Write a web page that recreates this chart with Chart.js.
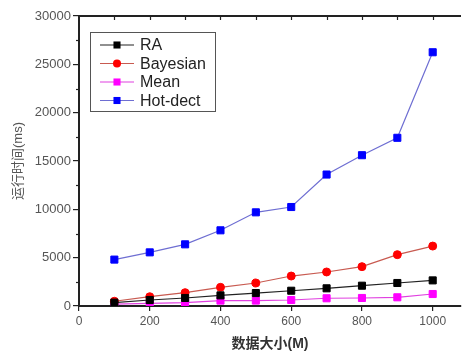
<!DOCTYPE html>
<html>
<head>
<meta charset="utf-8">
<script src="https://cdn.jsdelivr.net/npm/chart.js@4"></script>
<style>
html,body{margin:0;padding:0;background:#fff;}
canvas{display:block;}
</style>
</head>
<body>
<canvas id="chart" width="467" height="355"></canvas>
<script>
// ================= DATA =================

const sizes=[100,200,300,400,500,600,700,800,900,1000];

const raTimes=[350,620,830,1100,1340,1580,1830,2100,2380,2650];
const bayesTimes=[490,960,1380,1930,2380,3100,3520,4070,5310,6200];
const meanTimes=[200,280,350,560,560,620,800,830,900,1240];
const hotTimes=[4800,5550,6380,7830,9690,10240,13600,15600,17400,26250];

const seriesNames=["RA","Bayesian","Mean","Hot-dect"];

const xTitle="数据大小(M)";
const yTitle="运行时间(ms)";

const FONT='"Liberation Sans", "Noto Sans CJK SC", sans-serif';

function pts(vals){
return sizes.map((s,i)=>({x:s,y:vals[i]}));
}

// ================= DECOR PLUGIN =================

const decor={
id:"decor",
afterDraw(chart){
const ctx=chart.ctx;
const a=chart.chartArea;
const xs=chart.scales.x;
const ys=chart.scales.y;

ctx.save();
ctx.strokeStyle="#222";

// top frame line
ctx.lineWidth=2;
ctx.beginPath();
ctx.moveTo(a.left,a.top);
ctx.lineTo(a.right,a.top);
ctx.stroke();

// top inward ticks
ctx.lineWidth=1.2;
for(let v=100;v<=1000;v+=100){
const px=Math.round(xs.getPixelForValue(v))+0.5;
ctx.beginPath();
ctx.moveTo(px,a.top);
ctx.lineTo(px,a.top+4);
ctx.stroke();
}

// y minor ticks
for(let v=2500;v<30000;v+=5000){
const py=Math.round(ys.getPixelForValue(v))+0.5;
ctx.beginPath();
ctx.moveTo(a.left-3,py);
ctx.lineTo(a.left,py);
ctx.stroke();
}

// legend
const bx=90.5,by=32.5,bw=125,bh=79;
ctx.lineWidth=1;
ctx.strokeStyle="#555";
ctx.strokeRect(bx,by,bw,bh);

const rowsY=[45,63.5,82,100.5];
chart.data.datasets.forEach((ds,i)=>{
const y=rowsY[i];
ctx.strokeStyle=ds.borderColor;
ctx.lineWidth=1.2;
ctx.beginPath();
ctx.moveTo(100,y);
ctx.lineTo(134,y);
ctx.stroke();
ctx.fillStyle=ds.pointBackgroundColor;
ctx.beginPath();
if(ds.pointStyle==="circle"){
ctx.arc(117,y,ds.pointRadius,0,Math.PI*2);
}else{
const h=ds.pointRadius*Math.SQRT1_2;
ctx.rect(117-h,y-h,h*2,h*2);
}
ctx.fill();
ctx.fillStyle="#222";
ctx.font="16px "+FONT;
ctx.textBaseline="middle";
ctx.textAlign="left";
ctx.fillText(ds.label,140,y+1);
});

ctx.restore();
}
};

// ================= CHART =================

function mkSet(label,vals,line,mark,style){
return{
label:label,
data:pts(vals),
borderColor:line,
backgroundColor:mark,
pointBackgroundColor:mark,
pointBorderColor:mark,
pointStyle:style,
pointRadius:style==="circle"?4:5,
pointBorderWidth:1,
borderWidth:1.2,
tension:0,
fill:false
};
}

new Chart(document.getElementById("chart"),{

type:"line",

data:{
datasets:[
mkSet(seriesNames[0],raTimes,"#222222","#000000","rect"),
mkSet(seriesNames[1],bayesTimes,"#c85a50","#ff0000","circle"),
mkSet(seriesNames[2],meanTimes,"#e040e0","#ff00ff","rect"),
mkSet(seriesNames[3],hotTimes,"#6e6ed2","#0000ff","rect")
]
},

options:{
responsive:false,
animation:false,
layout:{padding:{top:16,right:0,left:0,bottom:0}},
plugins:{
legend:{display:false},
tooltip:{enabled:false}
},
scales:{
x:{
type:"linear",
position:"bottom",
min:0,
max:1080,
afterFit:s=>{s.height=49;},
ticks:{
stepSize:200,
includeBounds:false,
color:"#555",
padding:3,
font:{family:FONT,size:12},
callback:v=>String(v)
},
grid:{
drawOnChartArea:false,
tickLength:5,
color:"#222",
lineWidth:1.2
},
border:{color:"#222",width:2},
title:{
display:true,
text:xTitle,
color:"#333",
font:{family:FONT,size:14,weight:"bold"},
padding:{top:0,bottom:2}
}
},
y:{
min:0,
max:30000,
afterFit:s=>{s.width=79;},
ticks:{
stepSize:5000,
color:"#555",
padding:2,
font:{family:FONT,size:13},
callback:v=>String(v)
},
grid:{
drawOnChartArea:false,
tickLength:6,
color:"#222",
lineWidth:1.2
},
border:{color:"#222",width:2},
title:{
display:true,
text:yTitle,
color:"#555",
font:{family:FONT,size:13},
padding:{top:11,bottom:0}
}
}
}
},

plugins:[decor]

});
</script>
</body>
</html>
